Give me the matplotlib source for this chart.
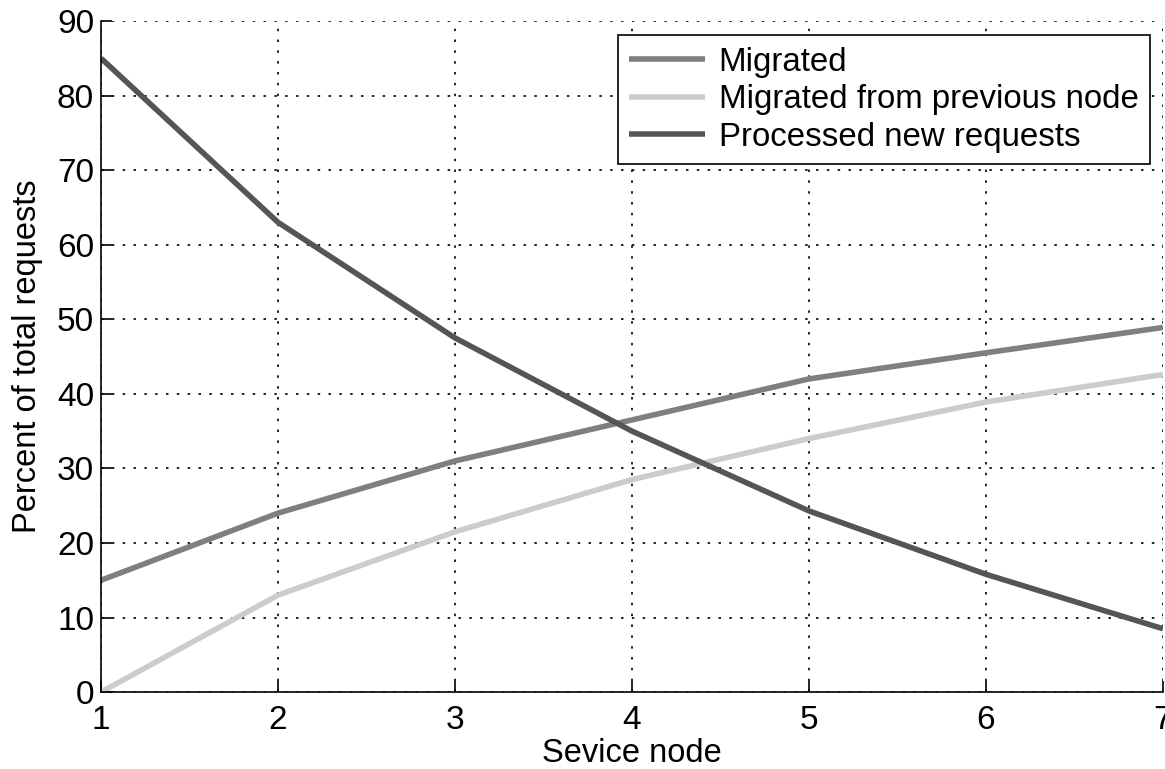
import matplotlib.pyplot as plt
import numpy as np

plt.rcParams['font.family'] = ['Liberation Sans', 'DejaVu Sans']

# ================= Data =================
nodes = [1, 2, 3, 4, 5, 6, 7]
migrated = [15, 24, 31, 36.5, 42, 45.5, 48.9]
migrated_prev = [0, 13, 21.5, 28.5, 34, 38.9, 42.6]
processed_new = [85, 63, 47.5, 35, 24.3, 15.8, 8.5]

labels = ["Migrated", "Migrated from previous node", "Processed new requests"]
colors = ["#7f7f7f", "#cccccc", "#555555"]

fig = plt.figure(figsize=(11.65, 7.69), dpi=100)
ax = fig.add_axes([0.0867, 0.100, 0.9115, 0.8727])

for y, lab, c in zip([migrated, migrated_prev, processed_new], labels, colors):
    ax.plot(nodes, y, color=c, linewidth=4, label=lab, solid_capstyle='butt')

ax.set_xlim(1, 7)
ax.set_ylim(0, 90)
ax.set_xticks(nodes)
ax.set_yticks(np.arange(0, 91, 10))
ax.tick_params(direction='in', length=8, width=1.2, labelsize=24, pad=5)
ax.tick_params(axis='x', pad=9)
ax.grid(True, linestyle=(0, (1.5, 5)), color='black', linewidth=1.2)

ax.spines['top'].set_visible(False)
ax.spines['right'].set_visible(False)
ax.spines['left'].set_linewidth(1.2)
ax.spines['bottom'].set_linewidth(1.2)

ax.set_xlabel("Sevice node", fontsize=23.5, labelpad=2)
ax.set_ylabel("Percent of total requests", fontsize=23.5, labelpad=10)

leg = ax.legend(loc='upper right', fontsize=23.8, frameon=True, fancybox=False,
                edgecolor='black', framealpha=1, handlelength=2.3,
                handletextpad=0.4, labelspacing=0.2, borderpad=0.35,
                borderaxespad=0.0, bbox_to_anchor=(0.988, 0.979))
leg.get_frame().set_linewidth(1.2)

fig.savefig("out.png", dpi=100)
